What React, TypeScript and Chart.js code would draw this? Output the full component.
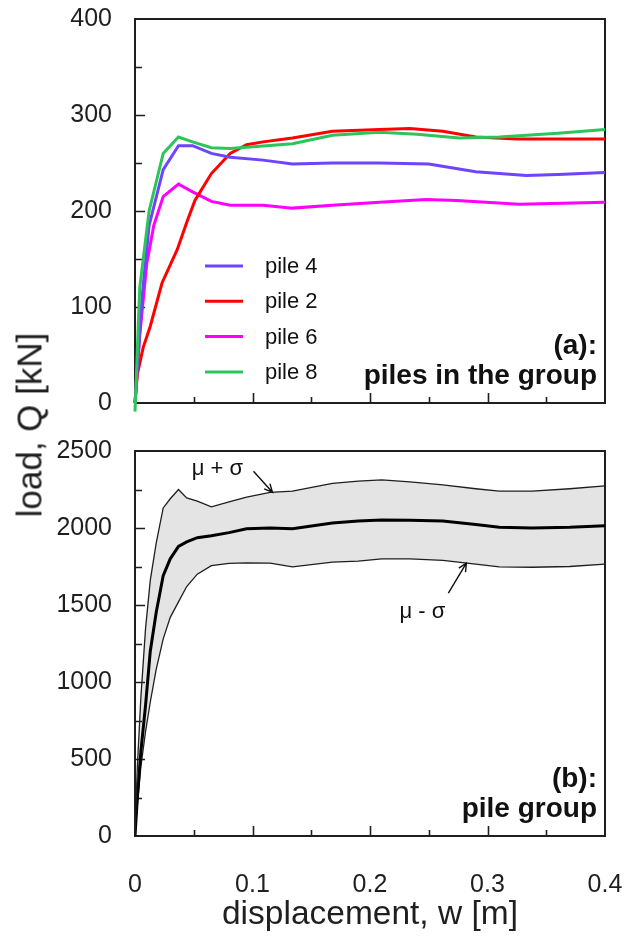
import { useEffect, useRef } from "react";
import { Chart, registerables } from "chart.js";

Chart.register(...registerables);

const FONT = "'Liberation Sans', Arial, Helvetica, sans-serif";
const INK = "#1f1f1f";

// (a) single piles in the group: displacement w [m] and load Q [kN]
const pile4W = [0, 0.006, 0.012, 0.024, 0.037, 0.049, 0.065, 0.081, 0.109, 0.134, 0.168, 0.208, 0.25, 0.29, 0.333, 0.36, 0.4];
const pile4Q = [0, 110, 185, 243, 268, 268, 260, 256, 253, 249, 250, 250, 249, 241, 237, 238, 240];

const pile2W = [0, 0.002, 0.007, 0.013, 0.023, 0.036, 0.044, 0.051, 0.065, 0.081, 0.095, 0.109, 0.134, 0.168, 0.208, 0.234, 0.262, 0.29, 0.325, 0.36, 0.4];
const pile2Q = [0, 30, 58, 80, 125, 160, 188, 211, 239, 260, 269, 272, 276, 283, 285, 286, 283, 277, 275, 275, 275];

const pile6W = [0, 0.004, 0.01, 0.016, 0.024, 0.037, 0.049, 0.065, 0.081, 0.109, 0.134, 0.168, 0.208, 0.248, 0.274, 0.327, 0.4];
const pile6Q = [0, 70, 145, 185, 215, 228, 220, 210, 206, 206, 203, 206, 209, 212, 211, 207, 209];

const pile8W = [0, 0.004, 0.012, 0.024, 0.037, 0.049, 0.065, 0.081, 0.134, 0.168, 0.208, 0.24, 0.276, 0.31, 0.36, 0.4];
const pile8Q = [-9, 120, 200, 260, 277, 272, 266, 265, 270, 279, 282, 280, 276, 277, 281, 285];

const pileLabels = ["pile 4", "pile 2", "pile 6", "pile 8"];
const pileW = [pile4W, pile2W, pile6W, pile8W];
const pileQ = [pile4Q, pile2Q, pile6Q, pile8Q];
const pileColors = ["#6e44ff", "#ff0000", "#ff00ff", "#2ec45c"];

// (b) pile group: mean load and mean ± one standard deviation
const groupW = [0, 0.002, 0.005, 0.009, 0.013, 0.018, 0.024, 0.03, 0.037, 0.044, 0.053, 0.065, 0.08, 0.095, 0.115, 0.134, 0.168, 0.19, 0.21, 0.234, 0.262, 0.29, 0.31, 0.338, 0.37, 0.4];
const groupUpper = [0, 450, 900, 1350, 1660, 1900, 2130, 2190, 2250, 2195, 2175, 2137, 2170, 2200, 2232, 2240, 2290, 2305, 2312, 2300, 2280, 2255, 2240, 2240, 2255, 2273];
const groupMean = [0, 250, 550, 850, 1200, 1450, 1690, 1800, 1880, 1910, 1937, 1950, 1970, 1995, 2000, 1995, 2033, 2046, 2052, 2050, 2045, 2022, 2005, 2000, 2005, 2015];
const groupLower = [0, 200, 450, 680, 870, 1080, 1280, 1420, 1520, 1620, 1700, 1755, 1770, 1773, 1772, 1747, 1779, 1785, 1799, 1800, 1790, 1765, 1748, 1745, 1750, 1766];

// axis ranges and tick steps
const wMin = 0, wMax = 0.4, wStep = 0.1;
const pileQMin = 0, pileQMax = 400, pileQStep = 100;
const groupQMin = 0, groupQMax = 2500, groupQStep = 500;

const pts = (w: number[], q: number[]) => w.map((x, i) => ({ x, y: q[i] }));
const plainNumber = (v: number) => String(+Number(v).toFixed(3));

// plot frame with inward major/minor tick marks on the left and bottom axes
const frameTicks = {
  id: "frameTicks",
  beforeDatasetsDraw(chart: any) {
    const { ctx, chartArea: a, scales } = chart;
    ctx.save();
    ctx.strokeStyle = INK;
    ctx.lineWidth = 2;
    ctx.strokeRect(a.left, a.top, a.right - a.left, a.bottom - a.top);
    ctx.lineWidth = 1.6;
    ctx.beginPath();
    const xs = scales.x;
    const xStep = xs.options.ticks.stepSize / 2;
    const nx = Math.round((xs.max - xs.min) / xStep);
    for (let i = 1; i < nx; i++) {
      const px = Math.round(xs.getPixelForValue(xs.min + i * xStep)) + 0.5;
      const len = i % 2 === 0 ? 10 : 6;
      ctx.moveTo(px, a.bottom);
      ctx.lineTo(px, a.bottom - len);
    }
    const ys = scales.y;
    const yStep = ys.options.ticks.stepSize / 2;
    const ny = Math.round((ys.max - ys.min) / yStep);
    for (let i = 1; i < ny; i++) {
      const py = Math.round(ys.getPixelForValue(ys.min + i * yStep)) + 0.5;
      const len = i % 2 === 0 ? 10 : 7;
      ctx.moveTo(a.left, py);
      ctx.lineTo(a.left + len, py);
    }
    ctx.stroke();
    ctx.restore();
  },
};

// bold panel caption in the lower right corner
const panelCaption = (lines: string[]) => ({
  id: "panelCaption",
  afterDatasetsDraw(chart: any) {
    const { ctx, chartArea: a } = chart;
    ctx.save();
    ctx.fillStyle = "#111";
    ctx.font = `bold 28px ${FONT}`;
    ctx.textAlign = "right";
    ctx.textBaseline = "alphabetic";
    ctx.fillText(lines[0], a.right - 8, a.bottom - 49);
    ctx.fillText(lines[1], a.right - 8, a.bottom - 19);
    ctx.restore();
  },
});

// legend inside the upper panel
const pileLegend = {
  id: "pileLegend",
  afterDatasetsDraw(chart: any) {
    const { ctx, chartArea: a } = chart;
    ctx.save();
    ctx.font = `22px ${FONT}`;
    ctx.textBaseline = "middle";
    ctx.textAlign = "left";
    chart.data.datasets.forEach((ds: any, i: number) => {
      const y = a.top + 247 + i * 35.3;
      ctx.strokeStyle = ds.borderColor;
      ctx.lineWidth = 3;
      ctx.beginPath();
      ctx.moveTo(a.left + 70, y);
      ctx.lineTo(a.left + 108, y);
      ctx.stroke();
      ctx.fillStyle = "#111";
      ctx.fillText(ds.label, a.left + 130, y + 1);
    });
    ctx.restore();
  },
};

// arrows pointing at the band limits
const bandNotes = [
  { text: "μ + σ", w: 0.117, q: 2232, tail: [-19, -21], label: [-55, -23] },
  { text: "μ - σ", w: 0.282, q: 1772, tail: [-18, 30], label: [-44, 49] },
];

const bandArrows = {
  id: "bandArrows",
  afterDatasetsDraw(chart: any) {
    const { ctx, scales } = chart;
    ctx.save();
    ctx.strokeStyle = "#111";
    ctx.fillStyle = "#111";
    ctx.lineWidth = 1.4;
    ctx.font = `22px ${FONT}`;
    ctx.textAlign = "center";
    ctx.textBaseline = "middle";
    bandNotes.forEach((n) => {
      const tx = scales.x.getPixelForValue(n.w);
      const ty = scales.y.getPixelForValue(n.q);
      const sx = tx + n.tail[0];
      const sy = ty + n.tail[1];
      ctx.beginPath();
      ctx.moveTo(sx, sy);
      ctx.lineTo(tx, ty);
      const ang = Math.atan2(sy - ty, sx - tx);
      const head = 9;
      ctx.moveTo(tx + head * Math.cos(ang + 0.45), ty + head * Math.sin(ang + 0.45));
      ctx.lineTo(tx, ty);
      ctx.lineTo(tx + head * Math.cos(ang - 0.45), ty + head * Math.sin(ang - 0.45));
      ctx.stroke();
      ctx.fillText(n.text, tx + n.label[0], ty + n.label[1]);
    });
    ctx.restore();
  },
};

const tickFont = { family: FONT, size: 25 };
const noGrid = { display: false, drawTicks: false };

// fixed axis box sizes; label overhang must not shrink the plot area
const fixY = (s: any) => {
  s.width = 135;
  s.paddingTop = 0;
  s.paddingBottom = 0;
  s.paddingLeft = 0;
  s.paddingRight = 0;
};
const fixX = (h: number) => (s: any) => {
  s.height = h;
  s.paddingTop = 0;
  s.paddingBottom = 0;
  s.paddingLeft = 0;
  s.paddingRight = 0;
};

export default function App() {
  const topRef = useRef<HTMLCanvasElement>(null);
  const botRef = useRef<HTMLCanvasElement>(null);

  useEffect(() => {
    const top = new Chart(topRef.current!, {
      type: "line",
      data: {
        datasets: pileLabels.map((label, i) => ({
          label,
          data: pts(pileW[i], pileQ[i]),
          borderColor: pileColors[i],
          backgroundColor: pileColors[i],
          borderWidth: 3,
          pointRadius: 0,
          tension: 0,
          fill: false,
          clip: false as any,
          order: i === 3 ? 0 : 1,
        })),
      },
      options: {
        responsive: false,
        animation: false,
        events: [],
        layout: { padding: { top: 19, right: 30, bottom: 17, left: 0 } },
        plugins: { legend: { display: false }, tooltip: { enabled: false } },
        scales: {
          x: {
            type: "linear",
            min: wMin,
            max: wMax,
            ticks: { display: false, stepSize: wStep },
            grid: noGrid,
            border: { display: false },
            afterFit: fixX(0),
          },
          y: {
            type: "linear",
            min: pileQMin,
            max: pileQMax,
            ticks: { stepSize: pileQStep, padding: 23, color: INK, font: tickFont, callback: plainNumber },
            grid: noGrid,
            border: { display: false },
            afterFit: fixY,
          },
        },
      },
      plugins: [frameTicks, pileLegend, panelCaption(["(a):", "piles in the group"])],
    } as any);

    const bottom = new Chart(botRef.current!, {
      type: "line",
      data: {
        datasets: [
          {
            label: "μ + σ",
            data: pts(groupW, groupUpper),
            borderColor: INK,
            borderWidth: 1.3,
            backgroundColor: "#e4e4e4",
            fill: "+2",
            pointRadius: 0,
            tension: 0,
          },
          {
            label: "μ",
            data: pts(groupW, groupMean),
            borderColor: "#000",
            borderWidth: 3,
            fill: false,
            pointRadius: 0,
            tension: 0,
          },
          {
            label: "μ - σ",
            data: pts(groupW, groupLower),
            borderColor: INK,
            borderWidth: 1.3,
            fill: false,
            pointRadius: 0,
            tension: 0,
          },
        ],
      },
      options: {
        responsive: false,
        animation: false,
        events: [],
        layout: { padding: { top: 31, right: 30, bottom: 0, left: 0 } },
        plugins: {
          legend: { display: false },
          tooltip: { enabled: false },
          filler: { drawTime: "beforeDatasetsDraw" },
        },
        scales: {
          x: {
            type: "linear",
            min: wMin,
            max: wMax,
            ticks: { stepSize: wStep, padding: 34, color: INK, font: tickFont, maxRotation: 0, autoSkip: false, callback: plainNumber },
            grid: noGrid,
            border: { display: false },
            title: {
              display: true,
              text: "displacement, w [m]",
              color: INK,
              font: { family: FONT, size: 33.5 },
              padding: { top: 0, bottom: 1 },
            },
            afterFit: fixX(100),
          },
          y: {
            type: "linear",
            min: groupQMin,
            max: groupQMax,
            ticks: { stepSize: groupQStep, padding: 23, color: INK, font: tickFont, callback: plainNumber },
            grid: noGrid,
            border: { display: false },
            afterFit: fixY,
          },
        },
      },
      plugins: [frameTicks, bandArrows, panelCaption(["(b):", "pile group"])],
    } as any);

    return () => {
      top.destroy();
      bottom.destroy();
    };
  }, []);

  return (
    <div style={{ position: "absolute", left: 0, top: 0, width: 635, height: 936, background: "#fff", overflow: "hidden" }}>
      <canvas ref={topRef} width={635} height={420} style={{ position: "absolute", left: 0, top: 0 }} />
      <canvas ref={botRef} width={635} height={516} style={{ position: "absolute", left: 0, top: 420 }} />
      <div
        style={{
          position: "absolute",
          left: 29,
          top: 425,
          transform: "translate(-50%, -50%) rotate(-90deg)",
          whiteSpace: "nowrap",
          fontFamily: FONT,
          fontSize: 35,
          color: INK,
          lineHeight: 1,
        }}
      >
        load, Q [kN]
      </div>
    </div>
  );
}
